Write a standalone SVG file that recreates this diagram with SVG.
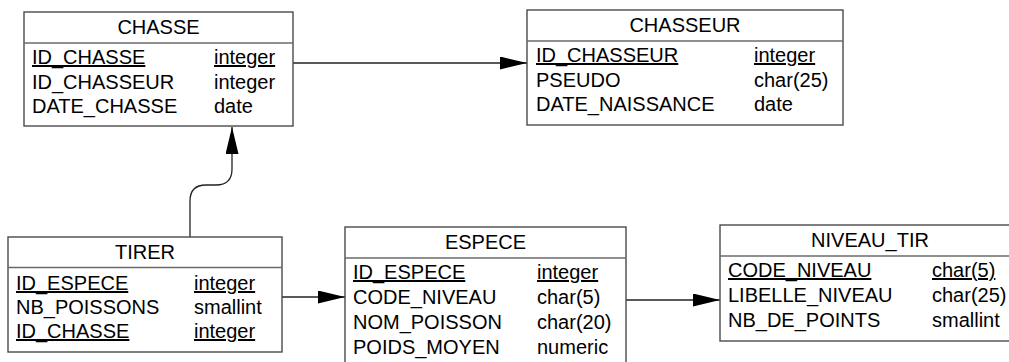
<svg xmlns="http://www.w3.org/2000/svg" width="1009" height="362" viewBox="0 0 1009 362">
<defs>
<style>
.box{fill:#fff;stroke:#4a4a4a;stroke-width:1.4}
.div{stroke:#6a6a6a;stroke-width:1.4}
text{font-family:"Liberation Sans",Arial,sans-serif;font-size:20px;fill:#000}
.t{text-anchor:middle}
.u{text-decoration:underline;text-decoration-thickness:2px;text-underline-offset:2px}
.con{fill:none;stroke:#222;stroke-width:1.3}
</style>
<marker id="arr" markerUnits="userSpaceOnUse" markerWidth="27" markerHeight="13" refX="27" refY="6.5" orient="auto">
<path d="M0,0 L27,6.5 L0,13 z" fill="#000"/>
</marker>
</defs>
<rect width="1009" height="362" fill="#fff"/>

<g id="connectors">
<path class="con" d="M293,63 H527" marker-end="url(#arr)"/>
<path class="con" d="M190,237 V201 Q190,185 206,185 H216 Q232,185 232,169 V127" marker-end="url(#arr)"/>
<path class="con" d="M282,297 H345" marker-end="url(#arr)"/>
<path class="con" d="M626,300 H720" marker-end="url(#arr)"/>
</g>

<g id="CHASSE">
<rect class="box" x="24" y="12" width="269" height="114"/>
<line class="div" x1="24" y1="43" x2="293" y2="43"/>
<text class="t" x="158.5" y="34">CHASSE</text>
<text class="u" x="32" y="64">ID_CHASSE</text><text class="u" x="214" y="64">integer</text>
<text x="32" y="89">ID_CHASSEUR</text><text x="214" y="89">integer</text>
<text x="32" y="113">DATE_CHASSE</text><text x="214" y="113">date</text>
</g>

<g id="CHASSEUR">
<rect class="box" x="527" y="10" width="316" height="115"/>
<line class="div" x1="527" y1="41" x2="843" y2="41"/>
<text class="t" x="685" y="32">CHASSEUR</text>
<text class="u" x="536" y="62">ID_CHASSEUR</text><text class="u" x="754" y="62">integer</text>
<text x="536" y="87">PSEUDO</text><text x="754" y="87">char(25)</text>
<text x="536" y="111">DATE_NAISSANCE</text><text x="754" y="111">date</text>
</g>

<g id="TIRER">
<rect class="box" x="8" y="237" width="274" height="115"/>
<line class="div" x1="8" y1="267.5" x2="282" y2="267.5"/>
<text class="t" x="145" y="258.5">TIRER</text>
<text class="u" x="16" y="290">ID_ESPECE</text><text class="u" x="194" y="290">integer</text>
<text x="16" y="314">NB_POISSONS</text><text x="194" y="314">smallint</text>
<text class="u" x="16" y="338">ID_CHASSE</text><text class="u" x="194" y="338">integer</text>
</g>

<g id="ESPECE">
<rect class="box" x="345" y="227" width="281" height="145"/>
<line class="div" x1="345" y1="258" x2="626" y2="258"/>
<text class="t" x="485.5" y="249">ESPECE</text>
<text class="u" x="353" y="279">ID_ESPECE</text><text class="u" x="537" y="279">integer</text>
<text x="353" y="304">CODE_NIVEAU</text><text x="537" y="304">char(5)</text>
<text x="353" y="329">NOM_POISSON</text><text x="537" y="329">char(20)</text>
<text x="353" y="354">POIDS_MOYEN</text><text x="537" y="354">numeric</text>
</g>

<g id="NIVEAU_TIR">
<rect class="box" x="720" y="225" width="300" height="116"/>
<line class="div" x1="720" y1="256" x2="1020" y2="256"/>
<text class="t" x="870" y="247">NIVEAU_TIR</text>
<text class="u" x="728" y="277">CODE_NIVEAU</text><text class="u" x="932" y="277">char(5)</text>
<text x="728" y="302">LIBELLE_NIVEAU</text><text x="932" y="302">char(25)</text>
<text x="728" y="327">NB_DE_POINTS</text><text x="932" y="327">smallint</text>
</g>
</svg>
